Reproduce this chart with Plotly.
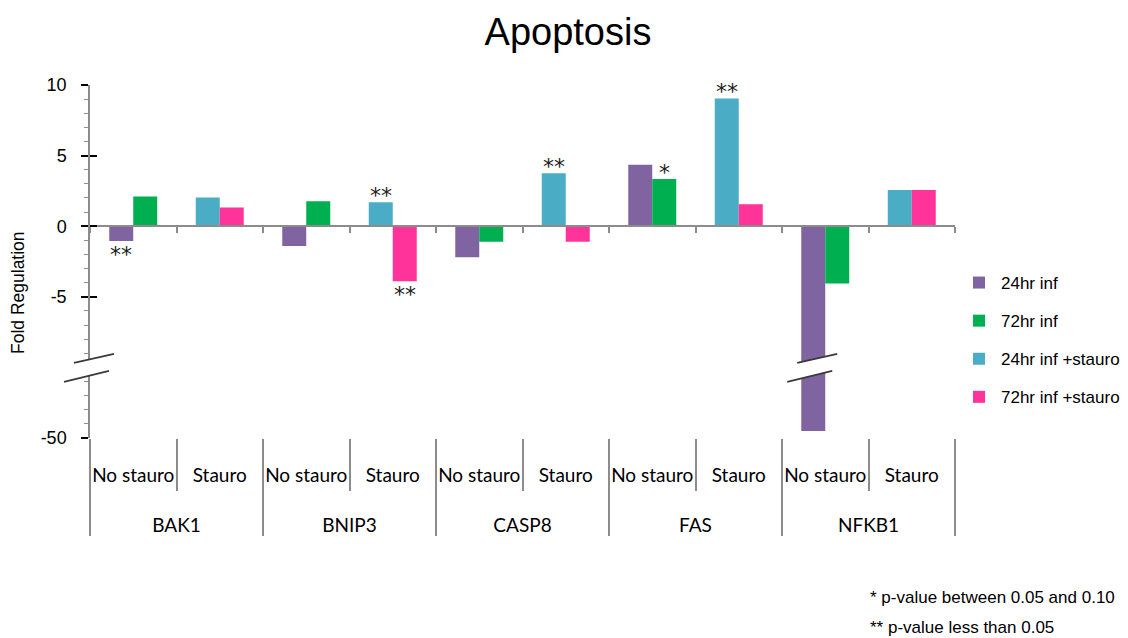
import plotly.graph_objects as go

# ---------------- data ----------------
genes = ["BAK1", "BNIP3", "CASP8", "FAS", "NFKB1"]
conditions = ["No stauro", "Stauro"]

series_names = ["24hr inf", "72hr inf", "24hr inf +stauro", "72hr inf +stauro"]
series_colors = ["#8064A2", "#00B050", "#4BACC6", "#FF3399"]
series_condition = ["No stauro", "No stauro", "Stauro", "Stauro"]
series_slot = ["a", "b", "a", "b"]

inf24 = [-1.05, -1.4, -2.2, 4.35, -49.5]
inf72 = [2.1, 1.76, -1.1, 3.35, -4.05]
inf24_stauro = [2.04, 1.7, 3.75, 9.05, 2.57]
inf72_stauro = [1.33, -3.9, -1.1, 1.55, 2.57]

sig24 = ["**", "", "", "", ""]
sig72 = ["", "", "", "*", ""]
sig24_stauro = ["", "**", "**", "**", ""]
sig72_stauro = ["", "**", "", "", ""]

series_values = [inf24, inf72, inf24_stauro, inf72_stauro]
series_sig = [sig24, sig72, sig24_stauro, sig72_stauro]

upper_tickvals = [-5, 0, 5, 10]
upper_ticktext = ["-5", "0", "5", "10"]
lower_tickvals = [-50]
lower_ticktext = ["-50"]
upper_range = [-10, 10]
lower_range = [-50, -45]

title_text = "Apoptosis"
ytitle_text = "Fold Regulation"
footnotes = ["* p-value between 0.05 and 0.10", "** p-value less than 0.05"]

# ---------------- layout constants ----------------
OFF = 8                      # page margin of the html body
W, H = 1128 - OFF, 638 - OFF
ML, MR, MT, MB = 90 - OFF, 173, 85 - OFF, 200
PW = W - ML - MR
PH = H - MT - MB
FONT = "Liberation Sans, Arial, sans-serif"
CATFONT = "Lato, Liberation Sans, sans-serif"
AXGRAY = "#8c8c8c"
bargap = 0.445


def fx(rx):  # reference x pixel -> paper
    return (rx - OFF - ML) / PW


def fy(ry):  # reference y pixel -> paper
    return (H - MB - (ry - OFF)) / PH


span_u = upper_range[1] - upper_range[0]
span_l = lower_range[1] - lower_range[0]
split = span_l / (span_u + span_l)
zero_pos = split + (0 - upper_range[0]) / span_u * (1 - split)

# outer labels get a leading line break so they sit lower, like the reference
outer = ["<br>" + g for g in genes for c in conditions]
inner = [c for g in genes for c in conditions]
ncat = len(outer)
xrange_cat = [-0.5, ncat - 0.5]


def series_y(i):
    vals = series_values[i]
    out = []
    for gi, g in enumerate(genes):
        for c in conditions:
            out.append(vals[gi] if c == series_condition[i] else None)
    return out


fig = go.Figure()
for i, name in enumerate(series_names):
    for xa, ya, show in (("x", "y", True), ("x2", "y2", False)):
        fig.add_trace(go.Bar(
            x=[outer, inner], y=series_y(i), name=name,
            marker=dict(color=series_colors[i], line=dict(width=0)),
            offsetgroup=series_slot[i], legendgroup=name, showlegend=show,
            xaxis=xa, yaxis=ya, hoverinfo="skip",
        ))

# invisible helper traces so that helper axes get drawn
for xa, ya in (("x3", "y2"), ("x", "y3"), ("x2", "y4")):
    fig.add_trace(go.Scatter(x=[outer, inner], y=series_y(0), mode="markers",
                             marker=dict(opacity=0), showlegend=False,
                             hoverinfo="skip", xaxis=xa, yaxis=ya))

# significance asterisks
slot_w = (1 - bargap) / 2
annotations = []
for i in range(len(series_names)):
    off = -slot_w / 2 if series_slot[i] == "a" else slot_w / 2
    ci = conditions.index(series_condition[i])
    for gi, s in enumerate(series_sig[i]):
        if not s:
            continue
        v = series_values[i][gi]
        annotations.append(dict(
            x=gi * len(conditions) + ci + off, y=v, xref="x", yref="y",
            text=s, showarrow=False,
            yanchor="bottom" if v > 0 else "top",
            yshift=-8 if v > 0 else 1,
            font=dict(family="DejaVu Sans", size=22, color="#222"),
        ))

annotations.append(dict(
    x=fx(18), y=fy(293), xref="paper", yref="paper",
    text=ytitle_text, textangle=-90, showarrow=False,
    font=dict(family=FONT, size=17.5, color="black"),
    xanchor="center", yanchor="middle"))
for k, t in enumerate(footnotes):
    annotations.append(dict(
        x=fx(868), y=fy(597 + 30 * k),
        xref="paper", yref="paper", text=t, showarrow=False,
        xanchor="left", yanchor="middle",
        font=dict(family=FONT, size=17, color="black")))


# axis break symbols
def px2paper(dx, dy):
    return dx / PW, dy / PH


def break_shapes(cx):
    cy = split
    up = [(-16, 4.5), (24, 13.5)]
    lo = [(-26, -14.5), (19, -3.5)]

    def P(p):
        ddx, ddy = px2paper(*p)
        return cx + ddx, cy + ddy
    pts = [P(up[0]), P(up[1]), P(lo[1]), P(lo[0])]
    mask = "M " + " L ".join(f"{a},{b}" for a, b in pts) + " Z"
    shapes = [dict(type="path", path=mask, xref="paper", yref="paper",
                   fillcolor="white", line=dict(width=0), layer="above")]
    for seg in (up, lo):
        (x0, y0), (x1, y1) = P(seg[0]), P(seg[1])
        shapes.append(dict(type="line", x0=x0, y0=y0, x1=x1, y1=y1,
                           xref="paper", yref="paper",
                           line=dict(color="#3a3a3a", width=1.6), layer="above"))
    return shapes


shapes = break_shapes(0.0)
nf = genes.index("NFKB1") * len(conditions) + conditions.index("No stauro") - slot_w / 2
shapes += break_shapes((nf - xrange_cat[0]) / (xrange_cat[1] - xrange_cat[0]))

common_y = dict(showgrid=False, zeroline=False, ticks="outside", ticklen=7,
                tickwidth=1.5, tickcolor="black", showline=True,
                linecolor=AXGRAY, linewidth=1.5, ticklabelstandoff=11,
                tickfont=dict(family=FONT, size=18, color="black"),
                minor=dict(dtick=1, tick0=0, ticks="outside", ticklen=4,
                           tickcolor=AXGRAY, tickwidth=1.2, showgrid=False))
helper_y = dict(showgrid=False, zeroline=False, ticks="inside", ticklen=7,
                tickwidth=1.5, tickcolor="black", showline=False,
                showticklabels=False)

fig.update_layout(
    template="none",
    width=W, height=H,
    margin=dict(l=ML, r=MR, t=MT, b=MB, autoexpand=False),
    paper_bgcolor="white", plot_bgcolor="rgba(0,0,0,0)",
    font=dict(family=FONT, color="black"),
    barmode="group", bargap=bargap, bargroupgap=0,
    title=dict(text=title_text, x=0.5, xref="container", xanchor="center",
               y=1 - (32 - OFF) / H, yref="container", yanchor="middle",
               font=dict(family=FONT, size=38, color="black")),
    xaxis=dict(anchor="free", position=zero_pos, domain=[0, 1], range=xrange_cat,
               showticklabels=False, showline=True, linecolor=AXGRAY, linewidth=1.5,
               ticks="outside", ticklen=6, tickwidth=1.5, tickcolor=AXGRAY,
               tickson="boundaries", showgrid=False, showdividers=False, zeroline=False),
    xaxis2=dict(anchor="y2", domain=[0, 1], range=xrange_cat, showline=False,
                ticks="outside", ticklen=20, tickcolor="rgba(0,0,0,0)",
                tickson="labels", tickangle=0, showgrid=False, zeroline=False,
                showdividers=True, dividercolor=AXGRAY, dividerwidth=1.5,
                tickfont=dict(family=CATFONT, size=19, color="black")),
    xaxis3=dict(anchor="y2", overlaying="x2", range=xrange_cat, showline=False,
                ticks="outside", ticklen=52, tickwidth=1.5, tickcolor=AXGRAY,
                tickson="boundaries", showticklabels=False, showgrid=False,
                showdividers=False, zeroline=False),
    yaxis=dict(domain=[split, 1], range=upper_range, anchor="x",
               tickvals=upper_tickvals, ticktext=upper_ticktext, **common_y),
    yaxis2=dict(domain=[0, split], range=lower_range, anchor="x2",
                tickvals=lower_tickvals, ticktext=lower_ticktext, **common_y),
    yaxis3=dict(overlaying="y", anchor="x", range=upper_range,
                tickvals=upper_tickvals, **helper_y),
    yaxis4=dict(overlaying="y2", anchor="x2", range=lower_range,
                tickvals=lower_tickvals, **helper_y),
    legend=dict(x=fx(957), xanchor="left", y=fy(265), yanchor="top",
                font=dict(family=FONT, size=17, color="black"),
                tracegroupgap=13, itemwidth=34, bgcolor="rgba(0,0,0,0)"),
    annotations=annotations,
    shapes=shapes,
    showlegend=True,
)

fig.write_html("out.html")
